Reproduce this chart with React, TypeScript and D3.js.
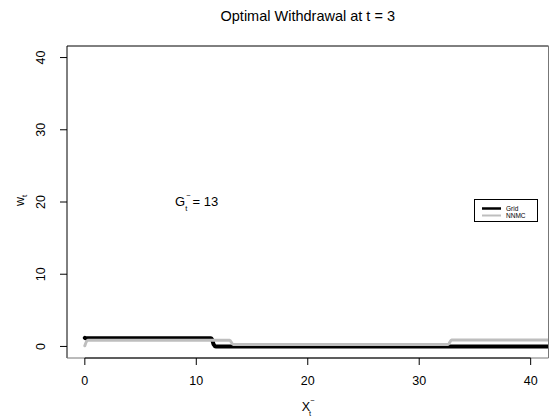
import React from "react";
import * as d3 from "d3";

// step-shaped policies
const gridX = [0, 0.05, 11.3, 11.45, 11.55, 11.75, 45];
const gridY = [1.2, 1.15, 1.15, 0.85, 0.3, 0, 0];
const nnmcX = [0, 0.25, 13.0, 13.3, 32.6, 32.9, 45];
const nnmcY = [0.1, 0.85, 0.85, 0.28, 0.28, 0.9, 0.9];

const xTicks = [0, 10, 20, 30, 40];
const yTicks = [0, 10, 20, 30, 40];

const W = 549;
const H = 417;
const margin = { left: 67, right: 0.5, top: 46, bottom: 59 };
const font = "'Liberation Sans', Arial, Helvetica, sans-serif";

export default function App() {
  const x = d3
    .scaleLinear()
    .domain([-1.6, 41.6])
    .range([margin.left, W - margin.right]);
  const y = d3
    .scaleLinear()
    .domain([-1.6, 41.6])
    .range([H - margin.bottom, margin.top]);

  const line = d3
    .line<[number, number]>()
    .x((d) => x(d[0]))
    .y((d) => y(d[1]))
    .curve(d3.curveMonotoneX);

  const grid = gridX.map((v, i) => [v, gridY[i]] as [number, number]);
  const nnmc = nnmcX.map((v, i) => [v, nnmcY[i]] as [number, number]);

  const [x0, x1] = x.range();
  const [y0, y1] = y.range();

  return (
    <svg
      width={W}
      height={H}
      style={{ position: "absolute", left: 0, top: 0, background: "#fff" }}
      fontFamily={font}
    >
      <defs>
        <clipPath id="plotArea">
          <rect x={x0} y={y1} width={x1 - x0} height={y0 - y1} />
        </clipPath>
      </defs>

      <text x={(x0 + x1) / 2} y={21} fontSize={14.5} textAnchor="middle">
        Optimal Withdrawal at t = 3
      </text>

      <g clipPath="url(#plotArea)" fill="none" strokeLinecap="round" strokeLinejoin="round">
        <path d={line(grid) ?? ""} stroke="#000" strokeWidth={4} />
        <path d={line(nnmc) ?? ""} stroke="#bebebe" strokeWidth={3} />
      </g>

      {/* plot box */}
      <path d={`M${x0},${y0}V${y1}H${x1}`} fill="none" stroke="#000" strokeWidth={1} />
      <path d={`M${x0},${y0}H${x1}V${y1}`} fill="none" stroke="#777" strokeWidth={1} />

      {/* x axis */}
      <g fontSize={12.5}>
        <line x1={x(0)} x2={x(40)} y1={y0} y2={y0} stroke="#000" />
        {xTicks.map((t) => (
          <g key={t}>
            <line x1={x(t)} x2={x(t)} y1={y0} y2={y0 + 7} stroke="#000" />
            <text x={x(t)} y={y0 + 27} textAnchor="middle">
              {t}
            </text>
          </g>
        ))}
      </g>

      {/* y axis */}
      <g fontSize={12.5}>
        {yTicks.map((t) => (
          <g key={t}>
            <line x1={x0 - 7} x2={x0} y1={y(t)} y2={y(t)} stroke="#000" />
            <text
              transform={`translate(${x0 - 22},${y(t)}) rotate(-90)`}
              textAnchor="middle"
            >
              {t}
            </text>
          </g>
        ))}
      </g>

      {/* axis titles */}
      <text x={(x0 + x1) / 2 - 6} y={411} fontSize={12.5}>
        X
        <tspan fontSize={7.5} dx={-1} dy={5}>t</tspan>
        <tspan fontSize={7.5} dx={-1} dy={-13}>−</tspan>
      </text>
      <text transform={`translate(24,${(y0 + y1) / 2 + 4}) rotate(-90)`} fontSize={12.5}>
        w<tspan fontSize={8} dy={3}>t</tspan>
      </text>

      {/* annotation */}
      <text x={175} y={206} fontSize={13}>
        G
        <tspan fontSize={7.5} dx={0} dy={5}>t</tspan>
        <tspan fontSize={7.5} dx={-1} dy={-13}>−</tspan>
        <tspan dx={2} dy={8}>= 13</tspan>
      </text>

      {/* legend */}
      <g fontSize={6.5}>
        <rect x={474.5} y={199.5} width={63} height={22} fill="#fff" stroke="#000" />
        <line x1={482} x2={501} y1={208.5} y2={208.5} stroke="#000" strokeWidth={2.5} />
        <line x1={482} x2={501} y1={215.5} y2={215.5} stroke="#bebebe" strokeWidth={2} />
        <text x={506} y={210.7}>Grid</text>
        <text x={506} y={218.4}>NNMC</text>
      </g>
    </svg>
  );
}
